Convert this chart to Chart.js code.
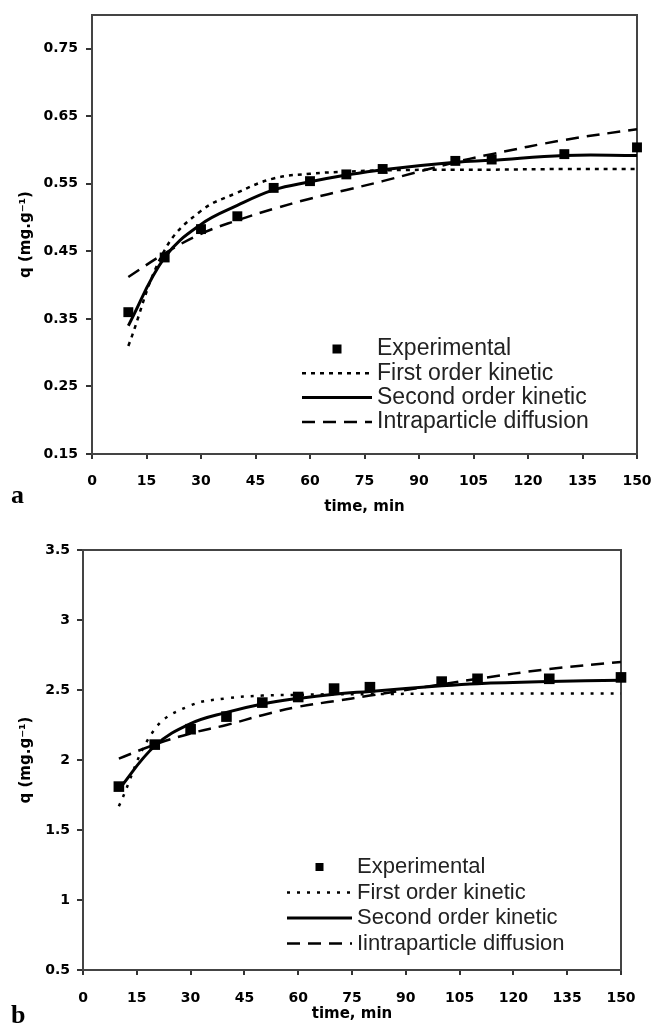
<!DOCTYPE html>
<html>
<head>
<meta charset="utf-8">
<script src="https://cdn.jsdelivr.net/npm/chart.js@4.4.1/dist/chart.umd.min.js"></script>
<style>
    html, body { margin: 0; padding: 0; background: #fff; }
    #hoja { position: relative; width: 651px; height: 1025px; }
    canvas { position: absolute; left: 0; }
</style>
</head>
<body>
<div id="hoja">
    <canvas id="grafico-a" width="651" height="520" style="top:0"></canvas>
    <canvas id="grafico-b" width="651" height="505" style="top:520px"></canvas>
</div>
<script>
// Datos
const tiempos = [10, 20, 30, 40, 50, 60, 70, 80, 100, 110, 130, 150];
const xTicks = [0, 15, 30, 45, 60, 75, 90, 105, 120, 135, 150];

// Panel a
const expA = [0.36, 0.441, 0.483, 0.502, 0.544, 0.554, 0.564, 0.572, 0.584, 0.586, 0.594, 0.604];
const firstA = [0.31, 0.452, 0.51, 0.537, 0.558, 0.565, 0.568, 0.57, 0.571, 0.571, 0.572, 0.572];
const secondA = [0.34, 0.441, 0.49, 0.518, 0.541, 0.553, 0.563, 0.571, 0.582, 0.585, 0.592, 0.592];
const intraA = [0.412, 0.447, 0.476, 0.496, 0.513, 0.528, 0.541, 0.554, 0.582, 0.594, 0.615, 0.631];
const yTicksA = [0.15, 0.25, 0.35, 0.45, 0.55, 0.65, 0.75];
const etiquetasA = ['Experimental', 'First order kinetic', 'Second order kinetic', 'Intraparticle diffusion'];

// Panel b
const expB = [1.81, 2.11, 2.22, 2.31, 2.41, 2.45, 2.51, 2.52, 2.56, 2.58, 2.58, 2.59];
const firstB = [1.67, 2.22, 2.39, 2.44, 2.46, 2.465, 2.47, 2.47, 2.475, 2.475, 2.475, 2.475];
const secondB = [1.79, 2.10, 2.26, 2.34, 2.40, 2.44, 2.47, 2.49, 2.53, 2.545, 2.56, 2.57];
const intraB = [2.01, 2.11, 2.19, 2.25, 2.32, 2.38, 2.42, 2.46, 2.54, 2.58, 2.65, 2.70];
const yTicksB = [0.5, 1, 1.5, 2, 2.5, 3, 3.5];
const etiquetasB = ['Experimental', 'First order kinetic', 'Second order kinetic', 'Iintraparticle diffusion'];

function pares(xs, ys) {
    return xs.map((x, i) => ({ x: x, y: ys[i] }));
}

// Marco del área de trazado
const marco = {
    id: 'marco',
    beforeDatasetsDraw(chart) {
        const { ctx, chartArea: a } = chart;
        ctx.save();
        ctx.strokeStyle = '#444';
        ctx.lineWidth = 2;
        ctx.strokeRect(a.left, a.top, a.right - a.left, a.bottom - a.top);
        ctx.restore();
    }
};

// Leyenda dentro del área
const leyenda = {
    id: 'leyenda',
    afterDatasetsDraw(chart, args, opts) {
        const ctx = chart.ctx;
        ctx.save();
        ctx.font = opts.font;
        ctx.textBaseline = 'middle';
        chart.data.datasets.forEach((ds, i) => {
            const y = opts.y + i * opts.fila;
            if (ds.showLine) {
                ctx.strokeStyle = ds.borderColor;
                ctx.lineWidth = ds.borderWidth;
                ctx.setLineDash(ds.borderDash || []);
                ctx.beginPath();
                ctx.moveTo(opts.x, y);
                ctx.lineTo(opts.x + opts.ancho, y);
                ctx.stroke();
                ctx.setLineDash([]);
            } else {
                const s = opts.cuadro;
                ctx.fillStyle = ds.backgroundColor;
                ctx.fillRect(opts.x + opts.ancho / 2 - s / 2, y - s / 2, s, s);
            }
            ctx.fillStyle = '#222';
            ctx.fillText(ds.label, opts.x + opts.ancho + 5, y);
        });
        ctx.restore();
    }
};

// Letra del panel
const letra = {
    id: 'letra',
    afterDraw(chart, args, opts) {
        const ctx = chart.ctx;
        ctx.save();
        ctx.font = 'bold 26px "Liberation Serif"';
        ctx.fillStyle = '#000';
        ctx.textBaseline = 'alphabetic';
        ctx.fillText(opts.texto, opts.x, opts.y);
        ctx.restore();
    }
};

function crearGrafico(id, p) {
    const fuenteTicks = { family: 'DejaVu Sans', weight: 'bold', size: 14 };
    const fuenteTitulo = { family: 'DejaVu Sans', weight: 'bold', size: 15 };
    new Chart(document.getElementById(id).getContext('2d'), {
        type: 'scatter',
        data: {
            datasets: [{
                label: p.etiquetas[0],
                data: pares(tiempos, p.exp),
                showLine: false,
                backgroundColor: '#000',
                borderColor: '#000',
                borderWidth: 0,
                pointStyle: 'rect',
                pointRadius: p.radio,
                clip: false
            }, {
                label: p.etiquetas[1],
                data: pares(tiempos, p.first),
                showLine: true,
                borderColor: '#000',
                borderWidth: 2.5,
                borderDash: p.punteado,
                pointRadius: 0,
                tension: 0.4
            }, {
                label: p.etiquetas[2],
                data: pares(tiempos, p.second),
                showLine: true,
                borderColor: '#000',
                borderWidth: 3,
                pointRadius: 0,
                tension: 0.4
            }, {
                label: p.etiquetas[3],
                data: pares(tiempos, p.intra),
                showLine: true,
                borderColor: '#000',
                borderWidth: 2.5,
                borderDash: [13, 8],
                pointRadius: 0,
                tension: 0.4
            }]
        },
        options: {
            responsive: false,
            animation: false,
            events: [],
            layout: { padding: p.relleno },
            scales: {
                x: {
                    type: 'linear',
                    min: 0,
                    max: 150,
                    afterBuildTicks: s => { s.ticks = xTicks.map(v => ({ value: v })); },
                    afterFit: s => {
                        s.height = p.altoX;
                        s.paddingLeft = 0;
                        s.paddingRight = 0;
                    },
                    ticks: {
                        autoSkip: false,
                        maxRotation: 0,
                        font: fuenteTicks,
                        color: '#000',
                        padding: p.padX,
                        callback: v => String(v)
                    },
                    grid: { drawOnChartArea: false, tickLength: 5, color: '#333', lineWidth: 2 },
                    border: { color: '#333', width: 2 },
                    title: {
                        display: true,
                        text: 'time, min',
                        font: fuenteTitulo,
                        color: '#000',
                        padding: { top: 0, bottom: p.padTituloX }
                    }
                },
                y: {
                    type: 'linear',
                    min: p.yMin,
                    max: p.yMax,
                    afterBuildTicks: s => { s.ticks = p.yTicks.map(v => ({ value: v })); },
                    afterFit: s => {
                        s.width = p.anchoY;
                        s.paddingTop = 0;
                        s.paddingBottom = 0;
                    },
                    ticks: {
                        autoSkip: false,
                        font: fuenteTicks,
                        color: '#000',
                        padding: p.padY,
                        callback: p.formato
                    },
                    grid: { drawOnChartArea: false, tickLength: 6, color: '#333', lineWidth: 2 },
                    border: { color: '#333', width: 2 },
                    title: {
                        display: true,
                        text: 'q (mg.g\u207B\u00B9)',
                        font: fuenteTitulo,
                        color: '#000',
                        padding: { top: 17, bottom: 0 }
                    }
                }
            },
            plugins: {
                legend: { display: false },
                tooltip: { enabled: false },
                leyenda: p.leyenda,
                letra: p.letra
            }
        },
        plugins: [marco, leyenda, letra]
    });
}

crearGrafico('grafico-a', {
    exp: expA, first: firstA, second: secondA, intra: intraA,
    etiquetas: etiquetasA,
    yTicks: yTicksA, yMin: 0.15, yMax: 0.80,
    formato: v => v.toFixed(2),
    radio: 7,
    punteado: [4, 5],
    relleno: { top: 15, right: 14, left: 0, bottom: 0 },
    altoX: 66, anchoY: 92,
    padX: 14, padY: 8, padTituloX: 4,
    leyenda: { x: 302, y: 349, fila: 24.3, ancho: 70, cuadro: 9, font: '23px "Liberation Sans"' },
    letra: { texto: 'a', x: 11, y: 503 }
});

crearGrafico('grafico-b', {
    exp: expB, first: firstB, second: secondB, intra: intraB,
    etiquetas: etiquetasB,
    yTicks: yTicksB, yMin: 0.5, yMax: 3.5,
    formato: v => String(v),
    radio: 7.5,
    punteado: [3, 7],
    relleno: { top: 30, right: 30, left: 0, bottom: 0 },
    altoX: 55, anchoY: 83,
    padX: 15, padY: 7, padTituloX: 2,
    leyenda: { x: 287, y: 347, fila: 25.5, ancho: 65, cuadro: 8, font: '22px "Liberation Sans"' },
    letra: { texto: 'b', x: 11, y: 503 }
});
</script>
</body>
</html>
